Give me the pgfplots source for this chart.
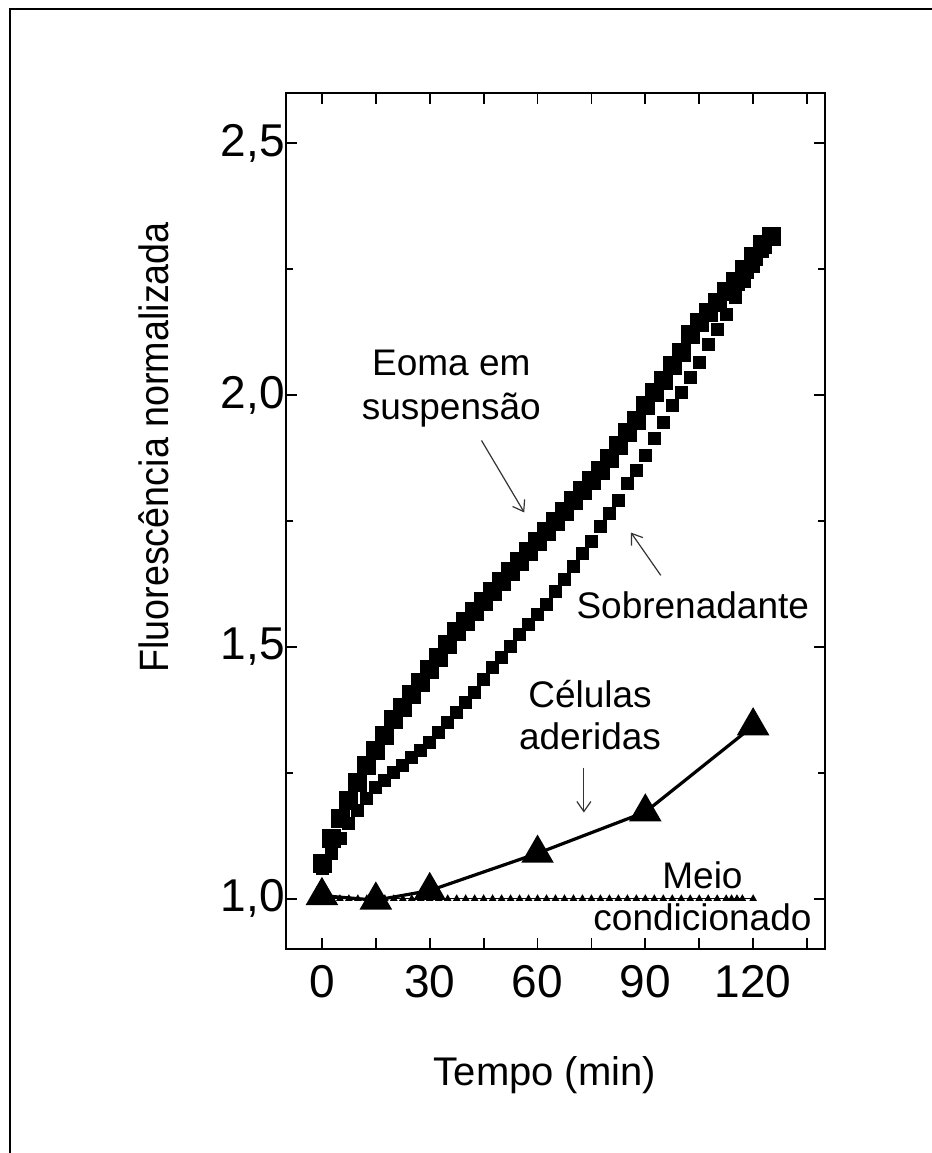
\documentclass[border=0pt]{standalone}
\usepackage{fontspec}
\setmainfont{Liberation Sans}
\newfontfamily\condfont[FakeStretch=0.92]{Liberation Sans}
\usepackage{pgfplots}
\pgfplotsset{compat=1.18}
\usetikzlibrary{arrows.meta}

\begin{document}
\begin{tikzpicture}
\path[use as bounding box] (0,0) rectangle (466pt,576.5pt);
\draw[line width=1pt] (5pt,0) -- (5pt,572pt) -- (466.5pt,572pt);
\begin{axis}[
  at={(143pt,102pt)}, anchor=south west,
  scale only axis, width=269.5pt, height=428pt,
  xmin=-10, xmax=140, ymin=0.9, ymax=2.6,
  xtick={0,15,30,45,60,75,90,105,120,135},
  xticklabels={0,{},30,{},60,{},90,{},120,{}},
  ytick={1,1.5,2,2.5},
  yticklabels={{1,0},{1,5},{2,0},{2,5}},
  minor ytick={1.25,1.75,2.25},
  tick align=inside,
  major tick length=5.3pt, minor tick length=3.5pt,
  tick style={line width=0.9pt, black},
  axis line style={line width=0.9pt},
  tick label style={font=\fontsize{23pt}{23pt}\selectfont},
  xticklabel style={yshift=-4.5pt},
  yticklabel style={xshift=3pt},
  xlabel={Tempo (min)},
  xlabel style={at={(axis description cs:0.4805,-0.1589)}, anchor=base, font=\fontsize{20pt}{24pt}\selectfont},
  ylabel={Fluorescência normalizada},
  ylabel style={at={(axis description cs:-0.2189,0.586)}, anchor=base, font=\condfont\fontsize{20.5pt}{24pt}\selectfont},
]
% Eoma em suspensao
\addplot[only marks, mark=square*, mark size=4.5pt, mark options={draw=none, fill=black}] coordinates {
(0,1.07) (2.5,1.12) (5,1.16) (7.5,1.195) (10,1.23) (12.5,1.265) (15,1.295) (17.5,1.325)
(20,1.355) (22.5,1.38) (25,1.405) (27.5,1.43) (30,1.455) (32.5,1.48) (35,1.505) (37.5,1.53)
(40,1.55) (42.5,1.57) (45,1.59) (47.5,1.61) (50,1.63) (52.5,1.65) (55,1.67) (57.5,1.69)
(60,1.71) (62.5,1.73) (65,1.75) (67.5,1.77) (70,1.79) (72.5,1.81) (75,1.83) (77.5,1.85)
(80,1.875) (82.5,1.90) (85,1.925) (87.5,1.95) (90,1.98) (92.5,2.005) (95,2.03) (97.5,2.06)
(100,2.085) (102.5,2.12) (105,2.145) (107.5,2.165) (110,2.185) (112.5,2.205) (115,2.225)
(117.5,2.25) (120,2.275) (122.5,2.30) (125,2.315)
};
% Sobrenadante
\addplot[only marks, mark=square*, mark size=3pt, mark options={draw=none, fill=black}] coordinates {
(0,1.06) (2.5,1.09) (5,1.12) (7.5,1.15) (10,1.175) (12.5,1.2) (15,1.22) (17.5,1.235)
(20,1.25) (22.5,1.265) (25,1.28) (27.5,1.295) (30,1.31) (32.5,1.33) (35,1.35) (37.5,1.37)
(40,1.39) (42.5,1.41) (45,1.435) (47.5,1.46) (50,1.48) (52.5,1.50) (55,1.525) (57.5,1.545)
(60,1.565) (62.5,1.585) (65,1.61) (67.5,1.635) (70,1.66) (72.5,1.685) (75,1.71) (77.5,1.74)
(80,1.765) (82.5,1.79) (85,1.825) (87.5,1.85) (90,1.88) (92.5,1.915) (95,1.945) (97.5,1.98)
(100,2.005) (102.5,2.035) (105,2.065) (107.5,2.1) (110,2.13) (112.5,2.16) (115,2.195)
(117.5,2.225) (120,2.255) (122.5,2.285) (125,2.31)
};
% Meio condicionado
\addplot[black, line width=0.6pt, mark=triangle*, mark size=1.6pt, mark options={fill=black, draw=none}] coordinates {
(0,1.0) (2.5,1.0) (5,1.0) (7.5,1.0) (10,1.0) (12.5,1.0) (15,1.0) (17.5,1.0) (20,1.0)
(22.5,1.0) (25,1.0) (27.5,1.0) (30,1.0) (32.5,1.0) (35,1.0) (37.5,1.0) (40,1.0) (42.5,1.0)
(45,1.0) (47.5,1.0) (50,1.0) (52.5,1.0) (55,1.0) (57.5,1.0) (60,1.0) (62.5,1.0) (65,1.0)
(67.5,1.0) (70,1.0) (72.5,1.0) (75,1.0) (77.5,1.0) (80,1.0) (82.5,1.0) (85,1.0) (87.5,1.0)
(90,1.0) (92.5,1.0) (95,1.0) (97.5,1.0) (100,1.0) (102.5,1.0) (105,1.0) (107.5,1.0)
(110,1.0) (112.5,1.0) (114,1.0) (115.5,1.0) (117,1.0) (120,1.0)
};
% Celulas aderidas
\addplot[black, line width=1.6pt, mark=triangle*, mark size=7.8pt, mark options={fill=black, draw=none}] coordinates {
(0,1.006) (15,0.997) (30,1.016) (60,1.09) (90,1.172) (120,1.343)
};
% annotations
\node[align=center, font=\fontsize{18.5pt}{22pt}\selectfont] at (axis cs:36,2.012) {Eoma em\\suspensão};
\draw[black!80, line width=0.6pt, -{Straight Barb[length=5pt,width=7pt]}] (axis cs:44.4,1.91) -- (axis cs:56.3,1.767);
\node[font=\fontsize{18.5pt}{22pt}\selectfont] at (axis cs:103.2,1.582) {Sobrenadante};
\draw[black!80, line width=0.6pt, -{Straight Barb[length=5pt,width=7pt]}] (axis cs:94.3,1.642) -- (axis cs:86.0,1.727);
\node[align=center, font=\fontsize{18.5pt}{21pt}\selectfont] at (axis cs:74.6,1.364) {Células\\aderidas};
\draw[black!80, line width=0.6pt, -{Straight Barb[length=5pt,width=7pt]}] (axis cs:72.9,1.26) -- (axis cs:72.9,1.171);
\node[align=center, font=\fontsize{18.5pt}{21pt}\selectfont] at (axis cs:105.9,1.005) {Meio\\condicionado};
\end{axis}
\end{tikzpicture}
\end{document}
